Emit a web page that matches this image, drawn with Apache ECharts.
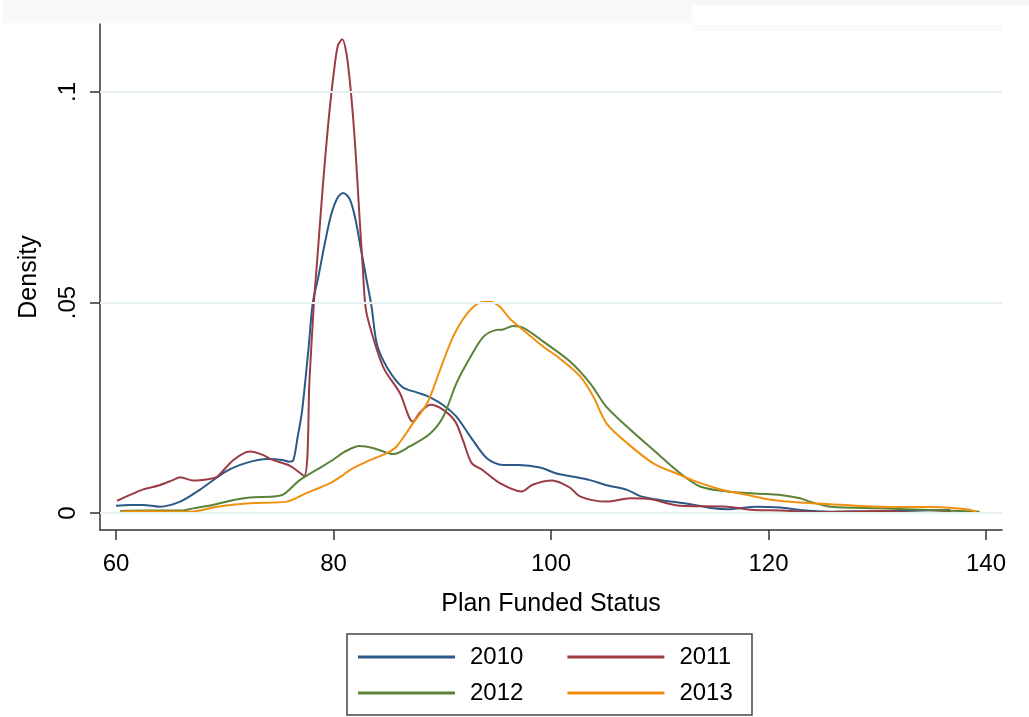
<!DOCTYPE html>
<html>
<head>
<meta charset="utf-8">
<script src="https://cdn.jsdelivr.net/npm/echarts@6/dist/echarts.min.js"></script>
<style>
  html, body { margin: 0; padding: 0; background: #fff; }
  #chart { width: 1029px; height: 717px; }
</style>
</head>
<body>
<div id="chart"></div>
<script>
// kernel density curves, [funded status, density]
const d2010 = [[60.0,0.0017],[61.3,0.0019],[62.5,0.0019],[64.0,0.0015],[65.9,0.0027],[67.7,0.0055],[70.2,0.0100],[72.0,0.0119],[73.9,0.0128],[75.3,0.0126],[75.9,0.0122],[76.3,0.0125],[76.7,0.018],[77.1,0.024],[77.7,0.039],[78.1,0.050],[78.6,0.056],[79.2,0.064],[79.8,0.071],[80.4,0.075],[80.9,0.076],[81.5,0.0745],[82.0,0.070],[82.5,0.063],[83.0,0.056],[83.5,0.049],[84.0,0.040],[84.9,0.0347],[86.3,0.030],[87.7,0.0286],[88.6,0.0278],[90.1,0.0256],[91.3,0.0229],[92.6,0.0181],[94.1,0.013],[95.6,0.0114],[97.1,0.0114],[99.0,0.0108],[100.5,0.0094],[101.7,0.0088],[103.6,0.0078],[105.1,0.0066],[107.0,0.0055],[108.2,0.004],[110.0,0.0031],[112.8,0.0021],[114.9,0.0011],[116.2,0.0009],[118.9,0.0015],[121.1,0.0013],[122.9,0.0007],[125.7,0.0003],[130.0,0.0004],[134.0,0.0006],[136.7,0.0007]];
const d2011 = [[60.1,0.0029],[61.3,0.0043],[62.5,0.0056],[64.0,0.0066],[65.2,0.0078],[65.9,0.0085],[67.1,0.0077],[68.6,0.0081],[69.3,0.0086],[70.8,0.0126],[72.3,0.0146],[73.5,0.0138],[74.4,0.0126],[76.0,0.0112],[77.3,0.0088],[77.8,0.032],[78.2,0.050],[78.5,0.060],[79.0,0.077],[79.5,0.092],[80.0,0.104],[80.4,0.111],[80.8,0.1125],[81.2,0.109],[81.6,0.100],[82.0,0.087],[82.4,0.070],[82.7,0.058],[83.0,0.048],[84.0,0.0387],[84.7,0.034],[86.1,0.0285],[87.3,0.0217],[88.0,0.024],[88.9,0.0257],[90.1,0.0245],[91.2,0.0217],[91.9,0.0173],[92.7,0.0119],[93.7,0.0102],[95.3,0.0071],[97.3,0.0051],[98.3,0.0067],[100.1,0.0077],[101.7,0.0061],[102.7,0.0039],[105.1,0.0027],[107.3,0.0035],[109.1,0.0033],[111.9,0.0017],[116.2,0.0015],[118.6,0.0007],[121.1,0.0006],[124.7,0.0002],[130.3,0.0005],[134.2,0.0000],[136.8,0.0003]];
const d2012 = [[60.4,0.0005],[63.0,0.0006],[66.0,0.0006],[67.1,0.0011],[68.9,0.0019],[70.8,0.0031],[72.3,0.0037],[74.5,0.0039],[75.4,0.0044],[76.9,0.0078],[78.8,0.0108],[80.0,0.0127],[81.0,0.0145],[82.4,0.0159],[83.7,0.0154],[85.5,0.014],[87.0,0.0158],[88.9,0.0189],[90.1,0.0229],[91.3,0.0308],[92.6,0.0371],[93.8,0.0419],[95.0,0.0435],[95.6,0.0436],[96.5,0.0444],[97.5,0.0439],[99.3,0.0407],[101.7,0.0361],[103.6,0.0308],[105.1,0.0252],[107.0,0.0205],[109.4,0.015],[111.9,0.0094],[113.7,0.0063],[116.2,0.0051],[119.8,0.0045],[121.1,0.0043],[122.9,0.0035],[123.8,0.0027],[125.7,0.0015],[130.3,0.0011],[134.9,0.0007],[139.4,0.0003]];
const d2013 = [[60.5,0.0003],[63.0,0.0004],[66.8,0.0003],[69.3,0.0015],[72.3,0.0023],[75.7,0.0027],[77.5,0.0047],[79.7,0.0071],[80.6,0.0085],[81.5,0.0102],[83.4,0.0126],[84.9,0.0142],[85.8,0.0158],[87.3,0.0213],[88.6,0.026],[89.8,0.034],[91.0,0.0419],[92.3,0.0474],[93.5,0.05],[94.4,0.0502],[95.3,0.049],[96.2,0.0462],[97.8,0.0427],[99.3,0.0395],[100.8,0.0367],[102.7,0.0324],[103.9,0.0276],[105.1,0.0213],[107.0,0.0166],[109.4,0.0118],[111.9,0.009],[113.1,0.0077],[115.6,0.0056],[118.0,0.0043],[120.4,0.0031],[122.9,0.0025],[125.7,0.0021],[130.3,0.0015],[134.9,0.0014],[138.2,0.0009],[139.1,0.0003]];

const seriesNames = ['2010', '2011', '2012', '2013'];
const seriesColors = ['#2b5a86', '#9b3c45', '#5b8236', '#f0900f'];
const xTicks = [60, 80, 100, 120, 140];
const yTicks = [0, 0.05, 0.1];
const yTickLabels = ['0', '.05', '.1'];

const font = 'Liberation Sans, Arial, sans-serif';
let myChart = echarts.init(document.getElementById('chart'));

let lines = [d2010, d2011, d2012, d2013].map((d, i) => ({
    name: seriesNames[i],
    type: 'line',
    data: d,
    smooth: 0.3,
    showSymbol: false,
    symbol: 'none',
    z: 3,
    lineStyle: { color: seriesColors[i], width: 2 },
    itemStyle: { color: seriesColors[i] }
}));

// grid lines behind the curves
lines.push({
    type: 'line',
    data: [],
    z: 1,
    markLine: {
        silent: true,
        symbol: 'none',
        label: { show: false },
        lineStyle: { color: '#e6eff1', width: 2, type: 'solid' },
        data: yTicks.map(v => ({ yAxis: v }))
    }
});

myChart.setOption({
    animation: false,
    backgroundColor: '#fff',
    textStyle: { fontFamily: font },
    grid: { left: 100, right: 27, top: 24, bottom: 187 },
    xAxis: {
        type: 'value',
        min: 58.53,
        max: 141.47,
        name: 'Plan Funded Status',
        nameLocation: 'middle',
        nameGap: 62,
        nameTextStyle: { fontSize: 25, color: '#000', fontFamily: font },
        axisLine: { show: true, onZero: false, lineStyle: { color: '#333', width: 1.5 } },
        axisTick: { show: true, length: 10, customValues: xTicks, lineStyle: { color: '#333', width: 1.5 } },
        axisLabel: { customValues: xTicks, fontSize: 24, color: '#000', margin: 22, fontFamily: font },
        splitLine: { show: false }
    },
    yAxis: {
        type: 'value',
        min: -0.00404,
        max: 0.11615,
        name: 'Density',
        nameLocation: 'middle',
        nameGap: 58,
        nameTextStyle: { fontSize: 25, color: '#000', fontFamily: font },
        axisLine: { show: true, onZero: false, lineStyle: { color: '#333', width: 1.5 } },
        axisTick: { show: true, length: 10, customValues: yTicks, lineStyle: { color: '#333', width: 1.5 } },
        axisLabel: {
            customValues: yTicks,
            rotate: 90,
            fontSize: 24,
            color: '#000',
            margin: 20,
            fontFamily: font,
            formatter: v => yTickLabels[yTicks.findIndex(t => Math.abs(t - v) < 1e-9)]
        },
        splitLine: { show: false }
    },
    legend: [
        {
            data: ['2010', '2011'], left: 358, top: 642, padding: 0,
            icon: 'rect', itemWidth: 97, itemHeight: 3, itemGap: 44,
            textStyle: { fontSize: 24, color: '#000', lineHeight: 30, padding: [0, 0, 0, 10], fontFamily: font }
        },
        {
            data: ['2012', '2013'], left: 358, top: 678, padding: 0,
            icon: 'rect', itemWidth: 97, itemHeight: 3, itemGap: 44,
            textStyle: { fontSize: 24, color: '#000', lineHeight: 30, padding: [0, 0, 0, 10], fontFamily: font }
        }
    ],
    graphic: [
        { type: 'rect', shape: { x: 3, y: 0, width: 1026, height: 5 }, style: { fill: '#f6f8f8' }, silent: true, z: -1 },
        { type: 'rect', shape: { x: 3, y: 5, width: 689, height: 18 }, style: { fill: '#f8f9f9' }, silent: true, z: -1 },
        { type: 'rect', shape: { x: 692, y: 25, width: 310, height: 6 }, style: { fill: '#f8f9f9' }, silent: true, z: -1 },
        { type: 'rect', shape: { x: 347, y: 634, width: 405, height: 81 }, style: { fill: 'none', stroke: '#444', lineWidth: 1.5 }, silent: true }
    ],
    series: lines
});
</script>
</body>
</html>
